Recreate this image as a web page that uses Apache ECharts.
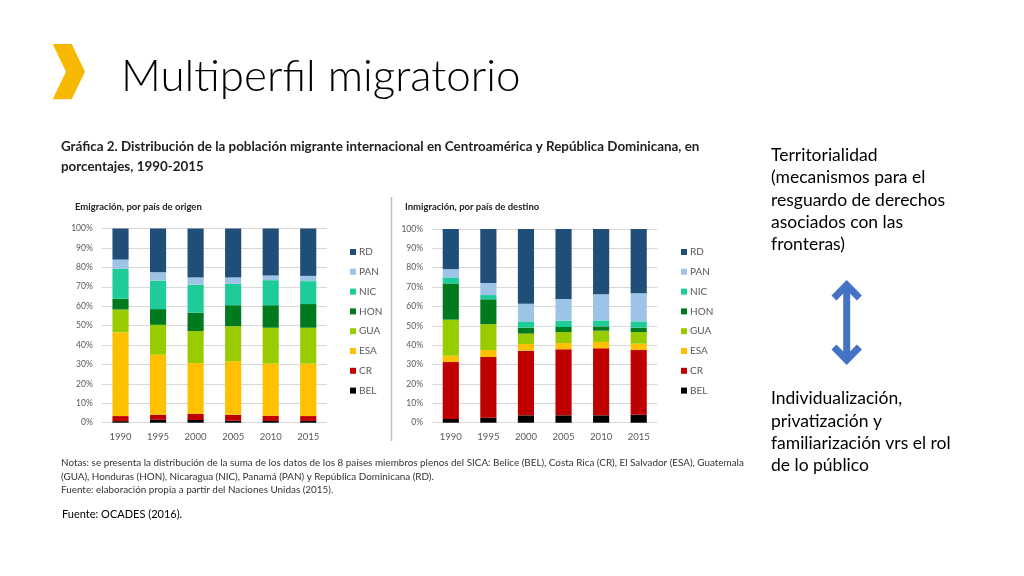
<!DOCTYPE html>
<html><head><meta charset="utf-8">
<script src="https://cdn.jsdelivr.net/npm/echarts@6/dist/echarts.min.js"></script>
<style>html,body{margin:0;padding:0;background:#fff}#c{width:1024px;height:576px}</style>
</head><body><div id="c"></div>
<script>
const years = ['1990','1995','2000','2005','2010','2015'];
const countries = ['BEL','CR','ESA','GUA','HON','NIC','PAN','RD'];
const colors = ['#000000','#C00000','#FFC000','#99CC00','#007A1F','#1ECC99','#9DC3E6','#1F4E79'];
const yTicks = [0,10,20,30,40,50,60,70,80,90,100];
// Emigración, por país de origen (%)
const emBEL = [0.8,1.5,1.4,1.0,0.9,0.9];
const emCR  = [2.6,2.6,3.1,3.1,2.7,2.5];
const emESA = [43.1,30.9,26.2,27.5,26.8,27.0];
const emGUA = [11.8,15.4,16.5,18.1,18.5,18.5];
const emHON = [5.5,8.1,9.4,10.8,11.6,12.2];
const emNIC = [15.4,14.7,14.4,11.0,12.9,11.8];
const emPAN = [4.8,4.3,3.8,3.3,2.4,2.7];
const emRD  = [16.0,22.5,25.2,25.2,24.2,24.4];
// Inmigración, por país de destino (%)
const imBEL = [1.9,2.6,3.8,3.8,3.8,4.1];
const imCR  = [29.4,31.3,33.4,34.1,34.6,33.4];
const imESA = [3.3,3.6,3.4,3.2,3.3,3.3];
const imGUA = [18.6,13.4,5.4,5.7,5.8,6.0];
const imHON = [18.7,12.8,3.1,2.6,2.2,2.3];
const imNIC = [3.1,2.2,3.2,3.3,3.1,3.2];
const imPAN = [4.3,6.2,9.1,11.2,13.5,14.5];
const imRD  = [20.7,27.9,38.6,36.1,33.7,33.2];

const emData = [emBEL,emCR,emESA,emGUA,emHON,emNIC,emPAN,emRD];
const imData = [imBEL,imCR,imESA,imGUA,imHON,imNIC,imPAN,imRD];

const titleText = 'Multiperfil migratorio';
const heading1 = 'Gráfica 2. Distribución de la población migrante internacional en Centroamérica y República Dominicana, en';
const heading2 = 'porcentajes, 1990-2015';
const sub1 = 'Emigración, por país de origen';
const sub2 = 'Inmigración, por país de destino';
const note1 = 'Notas: se presenta la distribución de la suma de los datos de los 8 países miembros plenos del SICA: Belice (BEL), Costa Rica (CR), El Salvador (ESA), Guatemala';
const note2 = '(GUA), Honduras (HON), Nicaragua (NIC), Panamá (PAN) y República Dominicana (RD).';
const note3 = 'Fuente: elaboración propia a partir del Naciones Unidas (2015).';
const source = 'Fuente: OCADES (2016).';
const rightTop = ['Territorialidad','(mecanismos para el','resguardo de derechos','asociados con las','fronteras)'];
const rightBottom = ['Individualización,','privatización y','familiarización vrs el rol','de lo público'];

const FONT = 'Lato, "Open Sans", sans-serif';
const mctx = document.createElement('canvas').getContext('2d');
function fit(text, weight, target){
  mctx.font = weight + ' 100px ' + FONT;
  return Math.round(100 * target / mctx.measureText(text).width * 10) / 10;
}

const chart = echarts.init(document.getElementById('c'), null, {renderer:'canvas'});

function mkSeries(data, idx, stack){
  return countries.map((n,i)=>({
    name:n, type:'bar', stack:stack, xAxisIndex:idx, yAxisIndex:idx,
    data:data[i], barWidth:'43%', itemStyle:{color:colors[i]}, silent:true
  }));
}
const axisX = i => ({gridIndex:i, type:'category', data:years,
  axisLine:{show:false}, axisTick:{show:false},
  axisLabel:{color:'#595959', fontSize:9.5, margin:9, fontFamily:FONT}});
const axisY = i => ({gridIndex:i, type:'value', min:yTicks[0], max:yTicks[yTicks.length-1], interval:10,
  axisLine:{show:false}, axisTick:{show:false},
  axisLabel:{color:'#595959', fontSize:8.5, margin:9, formatter:'{value}%', fontFamily:FONT},
  splitLine:{lineStyle:{color:'#D9D9D9', width:1}}});
const legendBase = (left) => ({
  orient:'vertical', left:left, top:241, itemWidth:6, itemHeight:6, itemGap:7.8,
  icon:'rect', data:countries.slice().reverse(), selectedMode:false,
  textStyle:{color:'#595959', fontSize:10, lineHeight:12, fontFamily:FONT, padding:[0,0,0,-2]}
});

const rTop = rightTop.map((t,i)=>({type:'text', left:771, top:156.5+i*22.3-10,
  style:{text:t, font:'17.5px '+FONT, fill:'#000'}}));
const rBot = rightBottom.map((t,i)=>({type:'text', left:771, top:399.5+i*22.4-10,
  style:{text:t, font:'17.5px '+FONT, fill:'#000'}}));

const hSize = fit(heading1,'bold',641);
const nSize = fit(note1,'normal',683);
const tSize = fit(titleText,'300',400);

chart.setOption({
  animation:false,
  backgroundColor:'#ffffff',
  grid:[{left:101.75, top:228.5, width:225.25, height:194.2},
        {left:432, top:229, width:225.5, height:193.7}],
  xAxis:[axisX(0), axisX(1)],
  yAxis:[axisY(0), axisY(1)],
  legend:[legendBase(345), legendBase(676)],
  series:[...mkSeries(emData,0,'em'), ...mkSeries(imData,1,'im')],
  graphic:[
    {type:'polygon', shape:{points:[[52.7,44],[71.7,44],[85,71.7],[71.7,99.3],[52.7,99.3],[66,71.7]]},
      style:{fill:'#F6B800'}},
    {type:'text', left:121, top:82-tSize*0.62, style:{text:titleText, font:'300 '+tSize+'px '+FONT, fill:'#000'}},
    {type:'text', left:61, top:148-hSize*0.62, style:{text:heading1, font:'bold '+hSize+'px '+FONT, fill:'#222'}},
    {type:'text', left:61, top:168-hSize*0.62, style:{text:heading2, font:'bold '+hSize+'px '+FONT, fill:'#222'}},
    {type:'text', left:75, top:202, style:{text:sub1, font:'bold 9.5px '+FONT, fill:'#222'}},
    {type:'text', left:405, top:202, style:{text:sub2, font:'bold 9.5px '+FONT, fill:'#222'}},
    {type:'line', shape:{x1:391.5,y1:197,x2:391.5,y2:441}, style:{stroke:'#BFBFBF', lineWidth:1.5}},
    {type:'text', left:61, top:464-nSize*0.62, style:{text:note1, font:nSize+'px '+FONT, fill:'#333'}},
    {type:'text', left:61, top:478-nSize*0.62, style:{text:note2, font:nSize+'px '+FONT, fill:'#333'}},
    {type:'text', left:61, top:491-nSize*0.62, style:{text:note3, font:nSize+'px '+FONT, fill:'#333'}},
    {type:'text', left:62, top:509, style:{text:source, font:'11px '+FONT, fill:'#000'}},
    ...rTop, ...rBot,
    {type:'line', shape:{x1:846.7,y1:286,x2:846.7,y2:359}, style:{stroke:'#4472C4', lineWidth:7}},
    {type:'polyline', shape:{points:[[834,298],[846.7,285],[859.4,298]]}, style:{stroke:'#4472C4', lineWidth:7, fill:null, lineJoin:'miter'}},
    {type:'polyline', shape:{points:[[834,347],[846.7,360],[859.4,347]]}, style:{stroke:'#4472C4', lineWidth:7, fill:null, lineJoin:'miter'}}
  ]
});
</script></body></html>
